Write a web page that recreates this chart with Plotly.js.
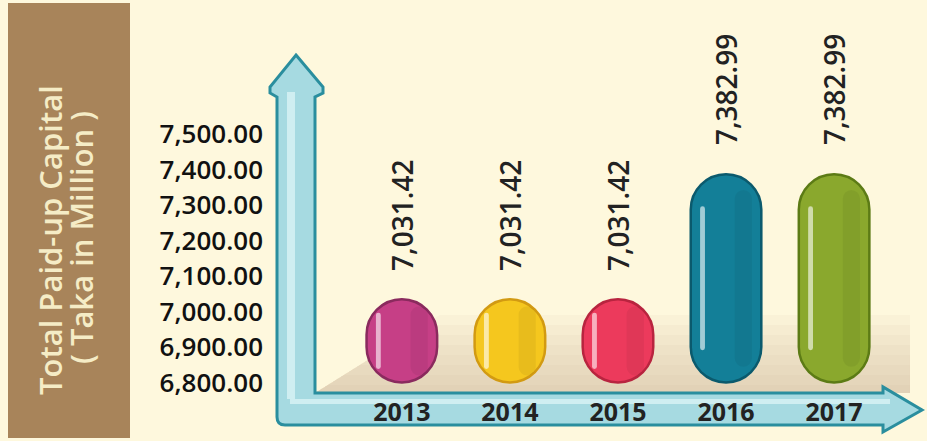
<!DOCTYPE html>
<html>
<head>
<meta charset="utf-8">
<script src="https://cdn.plot.ly/plotly-3.0.1.min.js"></script>
<style>html,body{margin:0;padding:0;background:#FEF8DD;}</style>
</head>
<body>
<div id="chart" style="width:927px;height:441px"></div>
<script>
// ---- data ----
const years = ['2013', '2014', '2015', '2016', '2017'];
const capital = [7031.42, 7031.42, 7031.42, 7382.99, 7382.99];
const yTickVals = [6800, 6900, 7000, 7100, 7200, 7300, 7400, 7500];
const titleLine1 = 'Total Paid-up Capital';
const titleLine2 = '( Taka in Million )';

// ---- style ----
const fills = ['#C63F86', '#F5C71E', '#EC3A5C', '#137F98', '#8AA82D'];
const edges = ['#8A2A5E', '#D29A12', '#B8243F', '#0B5A6D', '#5C7B15'];
const barBase = 6805;
const W = 927, H = 441;

function P(x, y) { return (x / W).toFixed(5) + ',' + (1 - y / H).toFixed(5); }
const fmt = v => v.toLocaleString('en-US', {minimumFractionDigits: 2, maximumFractionDigits: 2});

const barW = 0.63;
const outline = {
  type: 'bar', x: years, y: capital.map(v => v - barBase), base: capital.map(() => barBase),
  width: barW,
  marker: {color: fills, cornerradius: '50%', line: {color: edges, width: 5}},
  hoverinfo: 'skip', showlegend: false
};
const body = {
  type: 'bar', x: years, y: capital.map(v => v - barBase), base: capital.map(() => barBase),
  width: barW,
  marker: {color: fills, cornerradius: '50%', line: {width: 0}},
  hoverinfo: 'skip', showlegend: false
};
const shade = {
  type: 'bar', x: years,
  y: capital.map(v => (v - barBase) * 0.86),
  base: capital.map(v => barBase + (v - barBase) * 0.07),
  width: 0.16, offset: 0.08,
  marker: {color: 'rgba(0,0,0,0.05)', cornerradius: '50%', line: {width: 0}},
  hoverinfo: 'skip', showlegend: false
};
const gloss = {
  type: 'bar', x: years,
  y: capital.map(v => (v - barBase) * 0.7),
  base: capital.map(v => barBase + (v - barBase) * 0.15),
  width: 0.045, offset: -0.24,
  marker: {color: 'rgba(255,255,255,0.6)', cornerradius: '50%', line: {width: 0}},
  hoverinfo: 'skip', showlegend: false
};

const traces = [outline, body, shade, gloss];

// ---- decoration shapes (paper coords) ----
const shapes = [];
shapes.push({type: 'rect', xref: 'paper', yref: 'paper', x0: 8 / W, x1: 130 / W, y0: 1 - 438 / H, y1: 1 - 3 / H,
  fillcolor: '#A8845A', line: {width: 0}, layer: 'below'});
// soft floor shadow (stacked translucent bands)
for (let k = 0; k < 8; k++) {
  const y = 315 + k * 10;
  const x = 315 + (393 - y) * 1.6;
  shapes.push({type: 'path', xref: 'paper', yref: 'paper', layer: 'below',
    path: 'M' + P(315, 393) + 'L' + P(x, y) + 'L' + P(910, y) + 'L' + P(910, 393) + 'Z',
    fillcolor: 'rgba(205,170,135,0.07)', line: {width: 0}});
}
// L-shaped arrow axes
const arrowPath = 'M' + P(296, 55) + 'L' + P(323, 87) + 'L' + P(323, 93) + 'L' + P(315, 97) +
  'L' + P(315, 393) + 'L' + P(883, 393) + 'L' + P(883, 387) + 'L' + P(922, 410) + 'L' + P(883, 432) +
  'L' + P(883, 425) + 'L' + P(285, 425) + 'Q' + P(277, 425) + ' ' + P(277, 417) +
  'L' + P(277, 97) + 'L' + P(270, 93) + 'L' + P(270, 87) + 'Z';
shapes.push({type: 'path', xref: 'paper', yref: 'paper', layer: 'below', path: arrowPath,
  fillcolor: '#A6DAE1', line: {color: '#2A8E9E', width: 3}});
// highlight stripes
shapes.push({type: 'path', xref: 'paper', yref: 'paper', layer: 'below',
  path: 'M' + P(287, 92) + 'L' + P(295, 92) + 'L' + P(295, 399) + 'L' + P(287, 399) + 'Z',
  fillcolor: 'rgba(220,244,246,0.75)', line: {width: 0}});
shapes.push({type: 'path', xref: 'paper', yref: 'paper', layer: 'below',
  path: 'M' + P(290, 399) + 'L' + P(890, 399) + 'L' + P(890, 404) + 'L' + P(290, 404) + 'Z',
  fillcolor: 'rgba(220,244,246,0.75)', line: {width: 0}});

// value labels (from data); category axes take the category index
const valueLabels = years.map((yr, i) => ({
  x: i, y: capital[i], xref: 'x', yref: 'y', text: fmt(capital[i]), showarrow: false,
  textangle: -90, xanchor: 'center', yanchor: 'bottom', yshift: 28,
  font: {family: 'Open Sans', size: 28, color: '#222', weight: 600}
}));

const layout = {
  width: W, height: H,
  paper_bgcolor: '#FEF8DD', plot_bgcolor: 'rgba(0,0,0,0)',
  margin: {l: 0, r: 0, t: 0, b: 0},
  barmode: 'overlay',
  showlegend: false,
  xaxis: {
    type: 'category', domain: [310 / W, 900 / W], range: [-0.85, 4.61],
    showgrid: false, zeroline: false, showline: false, ticks: '',
    ticklabelstandoff: 0,
    tickfont: {family: 'Open Sans', size: 25, color: '#222', weight: 700},
    fixedrange: true
  },
  yaxis: {
    domain: [1 - 395 / H, 1 - 40 / H], range: [6766, 7764],
    tickvals: yTickVals, tickformat: ',.2f',
    showgrid: false, zeroline: false, showline: false, ticks: '',
    ticklabelstandoff: 46,
    tickfont: {family: 'Open Sans', size: 26, color: '#111', weight: 600},
    fixedrange: true
  },
  shapes: shapes,
  annotations: [
    {xref: 'paper', yref: 'paper', x: 50 / W, y: 1 - 240 / H, text: titleLine1, showarrow: false,
     textangle: -90, xanchor: 'center', yanchor: 'middle',
     font: {family: 'Open Sans', size: 31, color: '#F5ECC6', weight: 600}},
    {xref: 'paper', yref: 'paper', x: 81 / W, y: 1 - 238 / H, text: titleLine2, showarrow: false,
     textangle: -90, xanchor: 'center', yanchor: 'middle',
     font: {family: 'Open Sans', size: 31, color: '#F5ECC6', weight: 600}}
  ].concat(valueLabels)
};

Plotly.newPlot('chart', traces, layout, {displayModeBar: false, staticPlot: true});
</script>
</body>
</html>
